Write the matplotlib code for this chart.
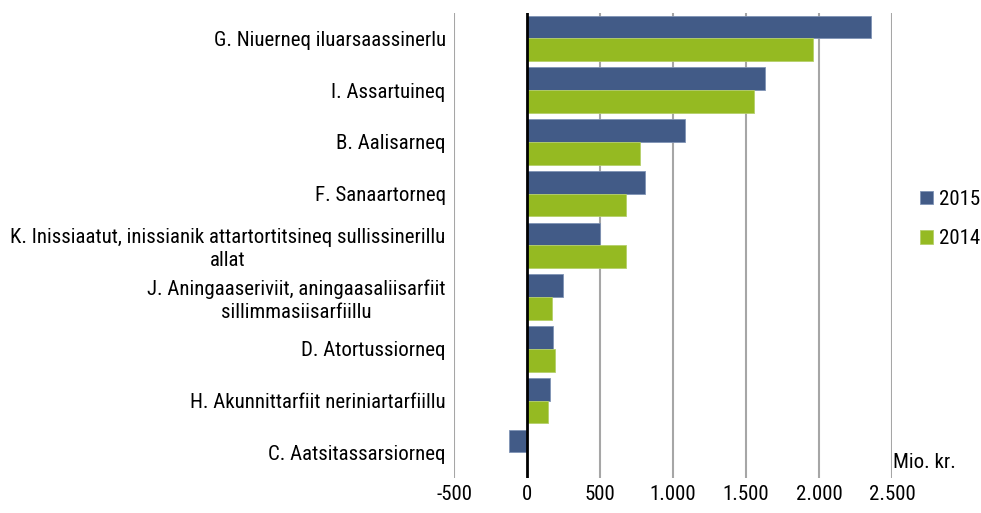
import matplotlib
matplotlib.use("Agg")
import matplotlib.pyplot as plt
import numpy as np
from matplotlib.ticker import FuncFormatter

plt.rcParams['font.family'] = ['Roboto Condensed', 'Roboto', 'DejaVu Sans']

categories = [
    "G. Niuerneq iluarsaassinerlu",
    "I. Assartuineq",
    "B. Aalisarneq",
    "F. Sanaartorneq",
    "K. Inissiaatut, inissianik attartortitsineq sullissinerillu\nallat",
    "J. Aningaaseriviit, aningaasaliisarfiit\nsillimmasiisarfiillu",
    "D. Atortussiorneq",
    "H. Akunnittarfiit neriniartarfiillu",
    "C. Aatsitassarsiorneq",
]
values_2015 = [2353, 1630, 1080, 806, 500, 244, 180, 155, -126]
values_2014 = [1961, 1552, 774, 675, 680, 169, 189, 146, 0]
xticks = [-500, 0, 500, 1000, 1500, 2000, 2500]

blue = "#425B87"
green = "#95BA22"
FS = 15

fig = plt.figure(figsize=(9.81, 5.13), dpi=100)
ax = fig.add_axes([0.4628, 0.0678, 0.9093 - 0.4628, 0.9754 - 0.0678])

n = len(categories)
y = np.arange(n)
h = 0.44
ax.barh(y - h / 2, values_2015, height=h, color=blue, label="2015",
        edgecolor="#7F93B5", linewidth=0.6, zorder=3)
ax.barh(y + h / 2, values_2014, height=h, color=green, label="2014",
        edgecolor="#B5CF6A", linewidth=0.6, zorder=3)

ax.set_ylim(n - 0.5, -0.5)
ax.set_xlim(-500, 2500)
ax.set_xticks(xticks)
ax.xaxis.set_major_formatter(FuncFormatter(lambda v, p: f"{int(v):,}".replace(",", ".")))
ax.set_yticks(y)
ax.set_yticklabels(categories, multialignment='center', linespacing=1.25)
for s in ax.spines.values():
    s.set_visible(False)
ax.tick_params(axis='both', length=0, labelsize=FS, colors='black')
ax.tick_params(axis='x', pad=5)
ax.tick_params(axis='y', pad=6)
for xv in xticks:
    if xv != 0:
        ax.axvline(xv, color="#A6A6A6", linewidth=1.5, zorder=1)
ax.axvline(0, color="black", linewidth=2, zorder=4)

ax.annotate("Mio. kr.", xy=(2500, 8.2), xytext=(1, 0), textcoords='offset points',
            fontsize=FS, ha='left', va='center')

leg = fig.legend(loc='center left', bbox_to_anchor=(920 / 981, 1 - 219 / 513),
                 bbox_transform=fig.transFigure, frameon=False,
                 fontsize=FS, handlelength=0.6, handleheight=0.6,
                 labelspacing=1.0, handletextpad=0.3, borderpad=0, borderaxespad=0)

fig.savefig("out.png", dpi=100)
